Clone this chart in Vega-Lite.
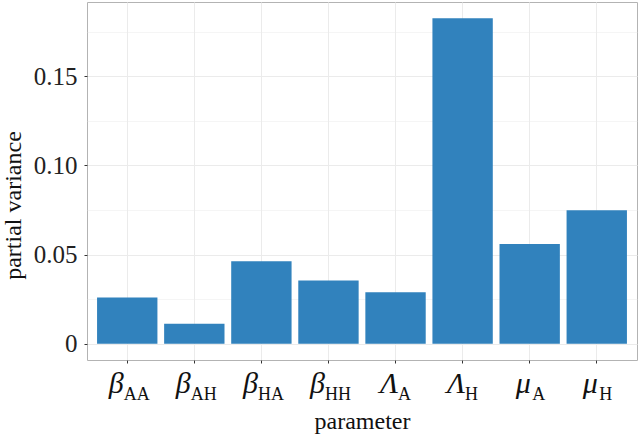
{
  "$schema": "https://vega.github.io/schema/vega-lite/v6.json",
  "width": 550,
  "height": 358,
  "autosize": {"type": "none"},
  "padding": {"left": 87, "top": 2, "right": 2, "bottom": 76},
  "background": "white",
  "config": {"view": {"stroke": "#b3b3b3", "strokeWidth": 1}, "font": "Liberation Serif"},
  "data": {
    "values": [
      {"param": "bAA", "value": 0.0259},
      {"param": "bAH", "value": 0.0112},
      {"param": "bHA", "value": 0.0463},
      {"param": "bHH", "value": 0.0354},
      {"param": "LA", "value": 0.0289},
      {"param": "LH", "value": 0.1825},
      {"param": "mA", "value": 0.0559},
      {"param": "mH", "value": 0.0748}
    ]
  },
  "encoding": {
    "y": {
      "field": "value",
      "type": "quantitative",
      "scale": {"domain": [-0.009125, 0.191625], "nice": false, "zero": false},
      "axis": {
        "values": [0, 0.025, 0.05, 0.075, 0.1, 0.125, 0.15, 0.175],
        "labelExpr": "round(datum.value*1000) % 50 != 0 ? '' : (datum.value == 0 ? '0' : format(datum.value, '.2f'))",
        "labelOverlap": false,
        "domain": false,
        "tickSize": 3,
        "tickColor": "#333333",
        "tickOpacity": {"condition": {"test": "round(datum.value*1000) % 50 != 0", "value": 0}, "value": 1},
        "grid": true,
        "gridColor": "#ebebeb",
        "gridWidth": {"condition": {"test": "round(datum.value*1000) % 50 != 0", "value": 0.5}, "value": 1},
        "labelFont": "Liberation Serif",
        "labelFontSize": 25,
        "labelColor": "#222222",
        "labelPadding": 7,
        "title": "partial variance",
        "titleFont": "Liberation Serif",
        "titleFontSize": 24,
        "titleFontWeight": "normal",
        "titleColor": "#111111",
        "titleBaseline": "alphabetic",
        "titleAlign": "center",
        "titleX": -67,
        "titleY": 203
      }
    },
    "y2": {"datum": 0}
  },
  "layer": [
    {
      "mark": {"type": "bar", "color": "#3182bd"},
      "encoding": {
        "x": {
          "field": "param",
          "type": "nominal",
          "sort": null,
          "scale": {"paddingInner": 0.1, "paddingOuter": 0.15},
          "axis": {
            "orient": "bottom",
            "bandPosition": 0.5,
            "labelExpr": "substring(datum.value, 0, 1) == 'b' ? 'β' : (substring(datum.value, 0, 1) == 'L' ? 'Λ' : 'μ')",
            "labelAngle": 0,
            "labelFont": "Liberation Serif",
            "labelFontSize": 30,
            "labelFontStyle": "italic",
            "labelColor": "#111111",
            "labelBaseline": "alphabetic",
            "labelAlign": "center",
            "labelPadding": 29,
            "labelOffset": {"condition": {"test": "substring(datum.value, 0, 1) == 'b'", "value": -11}, "value": -6.5},
            "tickSize": 3,
            "tickColor": "#333333",
            "domain": false,
            "grid": true,
            "gridColor": "#ebebeb",
            "title": "parameter",
            "titleFont": "Liberation Serif",
            "titleFontSize": 24,
            "titleFontWeight": "normal",
            "titleColor": "#111111",
            "titleBaseline": "alphabetic",
            "titleY": 68
          }
        }
      }
    },
    {
      "mark": {"type": "bar", "opacity": 0},
      "encoding": {
        "x": {
          "field": "param",
          "type": "nominal",
          "sort": null,
          "scale": {"paddingInner": 0.1, "paddingOuter": 0.15},
          "axis": {
            "orient": "bottom",
            "bandPosition": 0.5,
            "labelExpr": "substring(datum.value, 1)",
            "labelAngle": 0,
            "labelFont": "Liberation Serif",
            "labelFontSize": 18,
            "labelFontStyle": "normal",
            "labelColor": "#111111",
            "labelBaseline": "alphabetic",
            "labelAlign": "center",
            "labelPadding": 36,
            "labelOffset": {"condition": {"test": "length(datum.value) == 3", "value": 9.5}, "value": 9},
            "tickSize": 3,
            "tickOpacity": 0,
            "domain": false,
            "grid": false,
            "title": null
          }
        }
      }
    }
  ],
  "resolve": {"axis": {"x": "independent"}}
}
